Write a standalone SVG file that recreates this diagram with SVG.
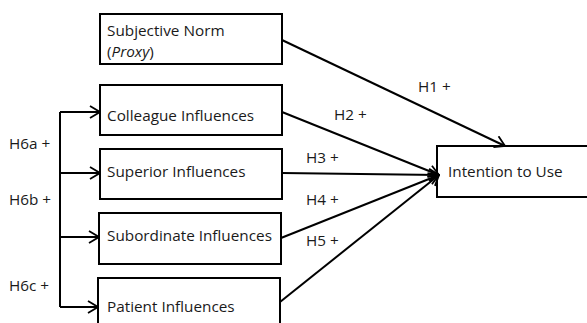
<svg xmlns="http://www.w3.org/2000/svg" width="587" height="323" viewBox="0 0 587 323">
<style>
.box{fill:#fff;stroke:#000;stroke-width:2}
.t{font-family:"Open Sans","Liberation Sans",sans-serif;font-size:15.3px;fill:#1a1a1a}
.ln{fill:none;stroke:#000;stroke-width:2}
</style>
<defs>
<marker id="open" viewBox="0 0 12 14" refX="11" refY="7" markerWidth="12" markerHeight="14" markerUnits="userSpaceOnUse" orient="auto">
<path d="M1,1 L11,7 L1,13" fill="none" stroke="#000" stroke-width="1.8"/>
</marker>
</defs>
<rect width="587" height="323" fill="#fff"/>
<g id="subjective-norm">
<rect class="box" x="100" y="14" width="182" height="50"/>
<text class="t" x="107" y="36">Subjective Norm</text>
<text class="t" x="107" y="57">(<tspan font-style="italic">Proxy</tspan>)</text>
</g>
<g id="colleague">
<rect class="box" x="100" y="85" width="182" height="50"/>
<text class="t" x="107" y="121">Colleague Influences</text>
</g>
<g id="superior">
<rect class="box" x="100" y="149" width="182" height="50"/>
<text class="t" x="107" y="177">Superior Influences</text>
</g>
<g id="subordinate">
<rect class="box" x="99" y="213" width="182" height="51"/>
<text class="t" x="107" y="241">Subordinate Influences</text>
</g>
<g id="patient">
<rect class="box" x="98" y="278" width="182" height="60"/>
<text class="t" x="107" y="312">Patient Influences</text>
</g>
<g id="intention">
<rect class="box" x="437" y="146" width="160" height="51"/>
<text class="t" x="448" y="177">Intention to Use</text>
</g>
<g id="connectors">
<path class="ln" d="M60,112 V307"/>
<path class="ln" d="M60,112 H100" marker-end="url(#open)"/>
<path class="ln" d="M60,173 H100" marker-end="url(#open)"/>
<path class="ln" d="M60,237 H99" marker-end="url(#open)"/>
<path class="ln" d="M60,307 H98" marker-end="url(#open)"/>
<path class="ln" d="M282,40 L505,146" marker-end="url(#open)"/>
<path class="ln" d="M282,112 L439,175" marker-end="url(#open)"/>
<path class="ln" d="M282,173 L439,175" marker-end="url(#open)"/>
<path class="ln" d="M281,238 L439,175" marker-end="url(#open)"/>
<path class="ln" d="M280,302 L439,175" marker-end="url(#open)"/>
</g>
<g id="labels">
<text class="t" x="418" y="92">H1 +</text>
<text class="t" x="334" y="120">H2 +</text>
<text class="t" x="306" y="163">H3 +</text>
<text class="t" x="306" y="205">H4 +</text>
<text class="t" x="306" y="246">H5 +</text>
<text class="t" x="9" y="149">H6a +</text>
<text class="t" x="9" y="205">H6b +</text>
<text class="t" x="9" y="291">H6c +</text>
</g>
</svg>
